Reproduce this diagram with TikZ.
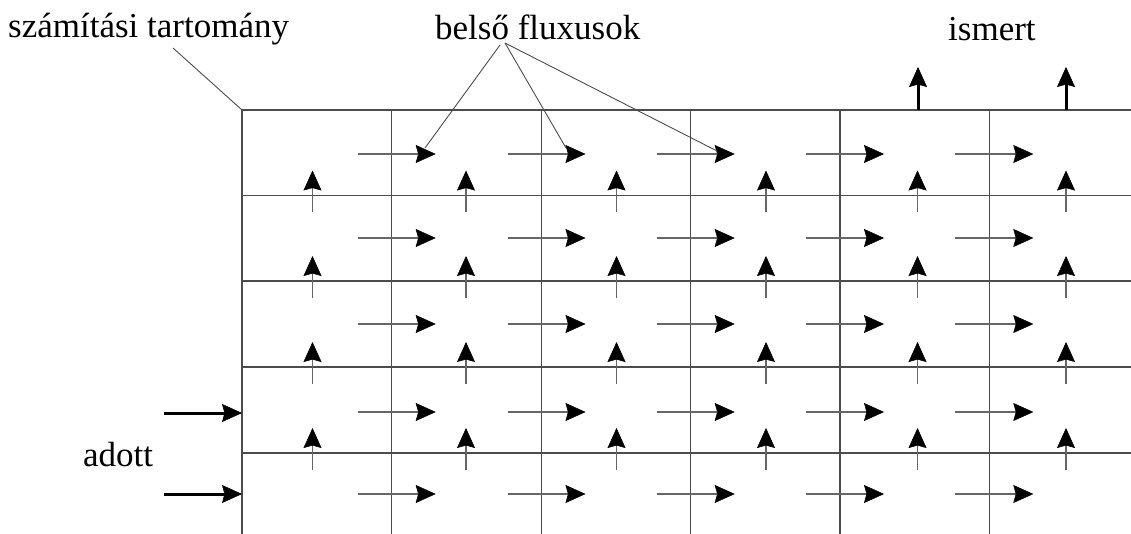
\documentclass[tikz,border=0pt]{standalone}
\usepackage{fontspec}
\setmainfont{Liberation Serif}
\usetikzlibrary{arrows.meta}
\tikzset{
  gridline/.style={draw=black!70, line width=1.1pt},
  flux/.style={draw=black!60, line width=1.1pt,
    -{Stealth[length=20pt,width=18pt,inset=2.5pt,line width=0.5pt,color=black]}},
  bc/.style={draw=black, line width=3pt,
    -{Stealth[length=20pt,width=18pt,inset=2.5pt,line width=0.5pt]}},
  lbl/.style={font=\fontsize{35}{42}\selectfont, inner sep=0pt, anchor=base west},
  leader/.style={draw=black!70, line width=0.9pt},
}
\begin{document}
\begin{tikzpicture}[x=1pt,y=-1pt]
\useasboundingbox[fill=white] (0,0) rectangle (1131,534);
% grid
\foreach \y in {110,195.5,281,367,453} \draw[gridline] (242,\y) -- (1131,\y);
\foreach \x in {242,391.7,541.5,690.7,840,989.3} \draw[gridline] (\x,110) -- (\x,534);
% horizontal inner fluxes
\foreach \y in {154,238,324,412,494}
  \foreach \x in {391.7,541.5,690.7,840,989.3}
    \draw[flux] (\x-34,\y) -- (\x+44,\y);
% vertical inner fluxes
\foreach \y in {195.5,281,367,453}
  \foreach \x in {312.5,466,616.5,766,917.5,1066}
    \draw[flux] (\x,\y+17) -- (\x,\y-25);
% boundary fluxes
\coordinate (t1a) at (918,110); \coordinate (t1b) at (918,67);
\coordinate (t2a) at (1066,110); \coordinate (t2b) at (1066,67);
\coordinate (l1a) at (164,413); \coordinate (l1b) at (242,413);
\coordinate (l2a) at (164,494); \coordinate (l2b) at (242,494);
\draw[bc] (t1a) -- (t1b);
\draw[bc] (t2a) -- (t2b);
\draw[bc] (l1a) -- (l1b);
\draw[bc] (l2a) -- (l2b);
% labels
\node[lbl] (szt) at (8,38) {számítási tartomány};
\node[lbl] (bf) at (435,39.5) {belső fluxusok};
\node[lbl] (ism) at (948,41) {ismert};
\node[lbl] (ado) at (83,466) {adott};
% leaders
\coordinate (sztend) at (173,48);
\coordinate (corner) at (242,110);
\draw[leader] (sztend) -- (corner);
\coordinate (bf1) at (500,45);
\coordinate (bf2) at (505,43);
\coordinate (h1) at (425,148);
\coordinate (h2) at (566,148);
\coordinate (h3) at (717,151);
\draw[leader] (bf1) -- (h1);
\draw[leader] (bf2) -- (h2);
\draw[leader] (bf2) -- (h3);
\end{tikzpicture}
\end{document}
